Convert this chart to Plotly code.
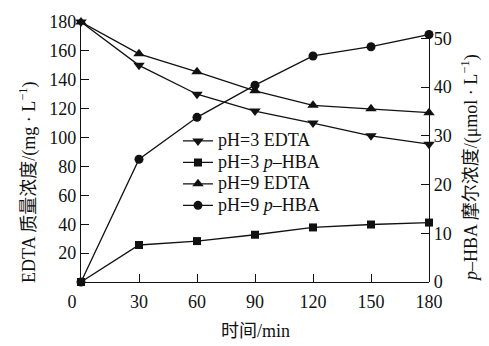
import plotly.graph_objects as go

# Sampling times (min)
time_min = [0, 30, 60, 90, 120, 150, 180]

# EDTA mass concentration (mg/L), left axis
edta_ph3 = [180, 150, 130, 118.3, 110, 101.2, 95.4]
edta_ph9 = [180, 158, 145.5, 132.4, 122.3, 120, 117.2]

# p-HBA molar concentration (umol/L), right axis
phba_ph3 = [0, 7.6, 8.4, 9.7, 11.2, 11.8, 12.2]
phba_ph9 = [0, 25.2, 33.8, 40.4, 46.4, 48.3, 50.8]

x_ticks = [0, 30, 60, 90, 120, 150, 180]
x_ticktext = ["0\u00a0\u00a0\u00a0\u00a0", "30", "60", "90", "120", "150", "180"]
left_ticks = [20, 40, 60, 80, 100, 120, 140, 160, 180]
right_ticks = [0, 10, 20, 30, 40, 50]

FONT = "Liberation Serif, 'Noto Sans CJK SC', serif"
INK = "#111111"

fig = go.Figure()

def legend_label(text):
    # larger glyphs inside a compact legend row
    return f"<span style='font-size:18px'>{text}</span>"

def add_series(y, name, symbol, size, axis):
    fig.add_trace(go.Scatter(
        x=time_min, y=y, name=legend_label(name), yaxis=axis,
        mode="lines+markers",
        line=dict(color=INK, width=1.3),
        marker=dict(symbol=symbol, size=size, color=INK),
        cliponaxis=False,
    ))

add_series(edta_ph3, "pH=3 EDTA", "triangle-down", 10, "y")
add_series(phba_ph3, "pH=3 <i>p</i>\u2013HBA", "square", 8, "y2")
add_series(edta_ph9, "pH=9 EDTA", "triangle-up", 10, "y")
add_series(phba_ph9, "pH=9 <i>p</i>\u2013HBA", "circle", 9, "y2")

tickfont = dict(family=FONT, size=18, color=INK)

fig.update_layout(
    width=489, height=346,
    margin=dict(l=81, r=60, t=12.5, b=63.5),
    paper_bgcolor="white", plot_bgcolor="rgba(0,0,0,0)",
    font=dict(family=FONT, size=18, color=INK),
    showlegend=True,
    legend=dict(
        x=0.2787, y=0.603, xanchor="left", yanchor="top",
        bgcolor="rgba(0,0,0,0)", font=dict(family=FONT, size=14.2, color=INK),
        tracegroupgap=0,
    ),
    xaxis=dict(
        range=[0, 180], domain=[0, 1], anchor="y",
        tickmode="array", tickvals=x_ticks, ticktext=x_ticktext,
        ticks="inside", ticklen=8, tickwidth=1.2, tickcolor=INK,
        ticklabelstandoff=3,
        showline=True, linecolor=INK, linewidth=1.3,
        showgrid=False, zeroline=False, tickfont=tickfont,
    ),
    yaxis=dict(
        range=[0, 180], domain=[0, 1], anchor="x",
        tickmode="array", tickvals=left_ticks,
        ticks="inside", ticklen=8, tickwidth=1.2, tickcolor=INK,
        showline=True, linecolor=INK, linewidth=1.3,
        showgrid=False, zeroline=False, tickfont=tickfont,
    ),
    yaxis2=dict(
        range=[0, 50.9], domain=[0, 0.9537], anchor="x", side="right",
        tickmode="array", tickvals=right_ticks,
        ticks="inside", ticklen=8, tickwidth=1.2, tickcolor=INK,
        showline=True, linecolor=INK, linewidth=1.3,
        showgrid=False, zeroline=False, tickfont=tickfont,
    ),
    annotations=[
        dict(text="EDTA 质量浓度/(mg · L<sup>−1</sup>)", xref="paper", yref="paper",
             x=-0.1523, y=0.385, xanchor="center", yanchor="middle",
             textangle=-90, showarrow=False, font=dict(family=FONT, size=18, color=INK)),
        dict(text="<i>p</i>–HBA 摩尔浓度/(μmol · L<sup>−1</sup>)", xref="paper", yref="paper",
             x=1.1178, y=0.4389, xanchor="center", yanchor="middle",
             textangle=-90, showarrow=False, font=dict(family=FONT, size=18, color=INK)),
        dict(text="时间/min", xref="paper", yref="paper",
             x=0.5, y=-0.188, xanchor="center", yanchor="middle",
             showarrow=False, font=dict(family=FONT, size=18, color=INK)),
    ],
)

fig.write_html("out.html")
